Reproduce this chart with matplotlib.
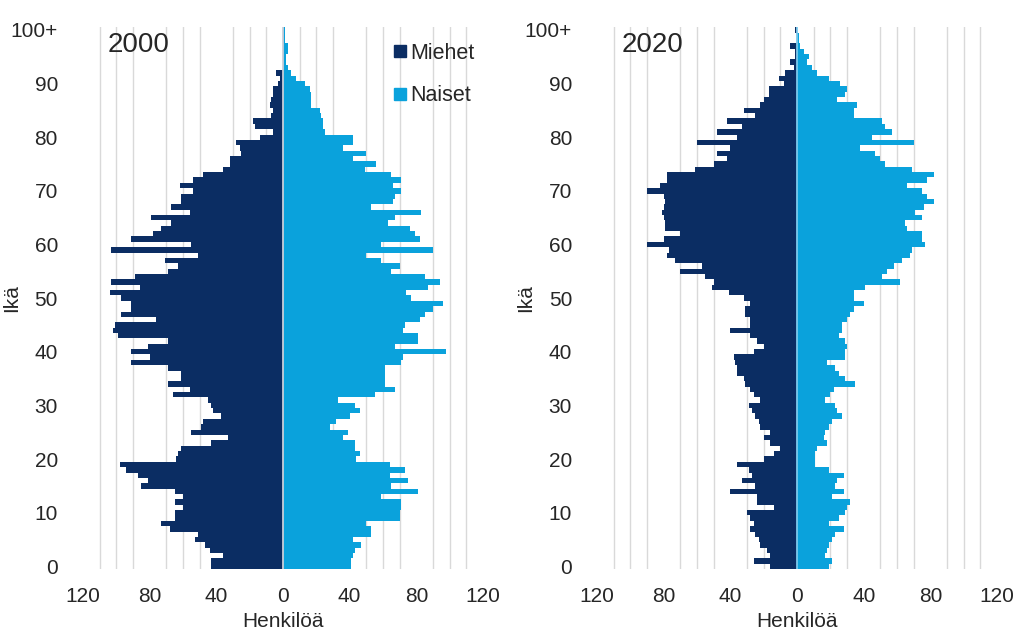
import matplotlib
matplotlib.use("Agg")
import matplotlib.pyplot as plt
from matplotlib.lines import Line2D
import numpy as np

plt.rcParams['font.family'] = ['Liberation Sans', 'DejaVu Sans']

ages = list(range(0, 101))
age_ticks = [0, 10, 20, 30, 40, 50, 60, 70, 80, 90, 100]
age_tick_labels = ['0', '10', '20', '30', '40', '50', '60', '70', '80', '90', '100+']
x_ticks = [-120, -80, -40, 0, 40, 80, 120]
x_tick_labels = ['120', '80', '40', '0', '40', '80', '120']

# Population by single year of age (0 ... 100+), persons
men_2000 = [43, 43, 36, 44, 47, 53, 51, 68, 73, 65,
            65, 60, 65, 60, 65, 85, 81, 87, 94, 98,
            64, 63, 61, 43, 33, 55, 49, 48, 37, 42,
            43, 45, 66, 56, 69, 61, 61, 69, 91, 80,
            91, 81, 69, 99, 102, 101, 76, 97, 91, 91,
            97, 104, 86, 103, 89, 69, 63, 71, 51, 103,
            55, 91, 78, 73, 67, 79, 56, 67, 61, 61,
            54, 62, 54, 48, 36, 32, 32, 25, 26, 28,
            14, 6, 17, 18, 7, 6, 8, 7, 6, 6,
            3, 2, 4, 0, 0, 0, 0, 0, 0, 0,
            0]
women_2000 = [41, 41, 42, 43, 47, 42, 53, 53, 50, 70,
              70, 71, 71, 59, 81, 65, 75, 64, 73, 64,
              44, 46, 43, 43, 36, 39, 28, 32, 40, 46,
              43, 33, 55, 67, 61, 61, 61, 61, 71, 72,
              98, 67, 81, 81, 72, 73, 82, 85, 90, 96,
              77, 74, 87, 94, 85, 65, 70, 59, 50, 90,
              59, 82, 79, 76, 63, 67, 83, 53, 66, 67,
              71, 66, 71, 65, 49, 56, 42, 50, 36, 42,
              42, 25, 24, 24, 23, 22, 17, 17, 17, 16,
              13, 8, 5, 3, 2, 2, 3, 3, 1, 1,
              1]
men_2020 = [16, 26, 16, 18, 22, 23, 25, 28, 26, 28,
            30, 14, 24, 24, 40, 25, 33, 27, 29, 36,
            20, 14, 10, 16, 20, 16, 22, 23, 25, 27,
            29, 22, 26, 28, 31, 32, 36, 36, 37, 38,
            26, 20, 24, 28, 40, 28, 28, 31, 31, 28,
            32, 41, 51, 50, 55, 70, 57, 73, 78, 77,
            90, 80, 70, 79, 79, 80, 81, 80, 79, 80,
            90, 82, 78, 78, 61, 50, 42, 48, 40, 60,
            36, 48, 33, 42, 25, 32, 22, 20, 17, 17,
            8, 11, 7, 2, 4, 1, 1, 4, 0, 0,
            1]
women_2020 = [19, 21, 17, 18, 19, 21, 23, 28, 19, 25,
              29, 30, 32, 21, 28, 23, 24, 28, 19, 11,
              11, 11, 12, 18, 16, 17, 19, 21, 27, 24,
              23, 17, 20, 22, 35, 29, 25, 23, 18, 29,
              29, 30, 29, 25, 27, 27, 30, 32, 34, 40,
              34, 34, 41, 62, 51, 54, 58, 63, 68, 69,
              77, 75, 75, 66, 65, 75, 71, 76, 82, 78,
              75, 66, 78, 82, 69, 53, 50, 47, 38, 70,
              45, 57, 53, 51, 34, 34, 36, 24, 29, 30,
              26, 19, 12, 9, 6, 7, 4, 2, 1, 1,
              0]

MEN_COLOR = '#0b2d63'
WOMEN_COLOR = '#0aa2dc'
TEXT_COLOR = '#262626'
GRID_COLOR = '#d9d9d9'

fig = plt.figure(figsize=(10.18, 6.33), dpi=100)
ax_left = fig.add_axes([0.0815, 0.101, 0.393, 0.856])
ax_right = fig.add_axes([0.5865, 0.101, 0.393, 0.856])


def draw_pyramid(ax, year, men, women, center_color):
    ax.barh(ages, -np.array(men), height=1.0, color=MEN_COLOR, zorder=2)
    ax.barh(ages, women, height=1.0, color=WOMEN_COLOR, zorder=2)
    ax.set_xlim(-120, 120)
    ax.set_ylim(-0.5, 100.5)
    ax.set_xticks(range(-120, 121, 10), minor=True)
    ax.grid(True, axis='x', which='minor', color=GRID_COLOR, linewidth=1.0, zorder=0)
    ax.grid(False, axis='y')
    ax.axvline(0, color=center_color, linewidth=1.3, zorder=3)
    ax.set_axisbelow(True)
    for s in ax.spines.values():
        s.set_visible(False)
    ax.set_xticks(x_ticks)
    ax.set_xticklabels(x_tick_labels)
    ax.set_yticks(age_ticks)
    ax.set_yticklabels(age_tick_labels)
    ax.tick_params(axis='both', which='both', length=0, labelsize=15,
                   labelcolor=TEXT_COLOR)
    ax.tick_params(axis='x', pad=13)
    ax.tick_params(axis='y', pad=18)
    ax.set_xlabel('Henkilöä', fontsize=15, color=TEXT_COLOR)
    ax.xaxis.set_label_coords(0.5, -0.079)
    ax.set_ylabel('Ikä', fontsize=15, color=TEXT_COLOR)
    ax.yaxis.set_label_coords(-0.155, 0.5)
    ax.text(0.062, 0.992, year, transform=ax.transAxes, fontsize=20,
            color=TEXT_COLOR, ha='left', va='top')


draw_pyramid(ax_left, '2000', men_2000, women_2000, '#c9ced8')
draw_pyramid(ax_right, '2020', men_2020, women_2020, '#7cc9ec')

handles = [Line2D([], [], marker='s', linestyle='none', markersize=9,
                  color=MEN_COLOR),
           Line2D([], [], marker='s', linestyle='none', markersize=9,
                  color=WOMEN_COLOR)]
ax_left.legend(handles, ['Miehet', 'Naiset'], loc='upper right',
               bbox_to_anchor=(1.01, 0.995), frameon=False, fontsize=15.5,
               handlelength=0.6, handletextpad=0.15, labelspacing=1.0,
               labelcolor=TEXT_COLOR, borderaxespad=0.2)

fig.savefig('out.png', dpi=100, facecolor='white')
